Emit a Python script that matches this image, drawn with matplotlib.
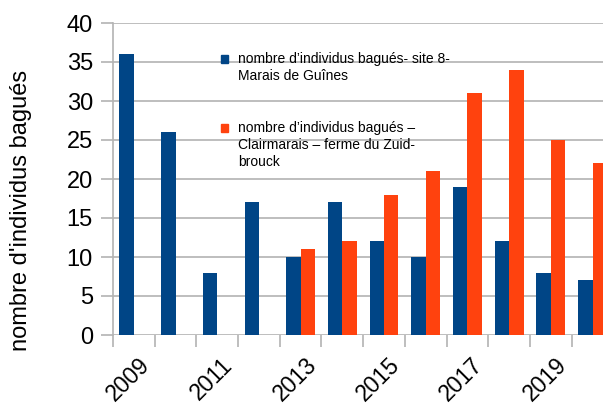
import numpy as np
import matplotlib
matplotlib.use('Agg')
import matplotlib.pyplot as plt
import matplotlib.transforms as mtransforms
from matplotlib.patches import Rectangle

plt.rcParams['font.family'] = ['Liberation Sans', 'DejaVu Sans']

# birds ringed per year at the two sites
years = [2009, 2010, 2011, 2012, 2013, 2014, 2015, 2016, 2017, 2018, 2019, 2020]
guines = [36, 26, 8, 17, 10, 17, 12, 10, 19, 12, 8, 7]
clairmarais = [np.nan, np.nan, np.nan, np.nan, 11, 12, 18, 21, 31, 34, 25, 22]

label_guines = "nombre d\u2019individus bagués- site 8-\nMarais de Guînes"
label_clair = "nombre d\u2019individus bagués \u2013\nClairmarais \u2013 ferme du Zuid-\nbrouck"

blue = '#004586'
orange = '#ff420e'
grey = '#b3b3b3'

W, H = 603, 409
fig = plt.figure(figsize=(W / 100, H / 100), dpi=100)
# plot area runs a bit past the right edge of the image
ax = fig.add_axes([113 / W, 1 - 335 / H, 500.4 / W, 312 / H])

x = np.arange(len(years))
bw = 0.345
ax.bar(x - bw / 2, guines, width=bw, color=blue, zorder=2)
ax.bar(x + bw / 2, clairmarais, width=bw, color=orange, zorder=2)

ax.set_xlim(-0.5, len(years) - 0.5)
ax.set_ylim(0, 40)
ax.set_yticks(range(0, 41, 5))
ax.yaxis.grid(True, color=grey, linewidth=1.2, zorder=0)

for s in ['top', 'right', 'bottom']:
    ax.spines[s].set_visible(False)
ax.spines['left'].set_color(grey)
ax.spines['left'].set_linewidth(1.2)

# boundary ticks without labels, year labels every other slot
ax.set_xticks(np.arange(-0.5, len(years), 1))
ax.set_xticklabels([])
ax.set_xticks(x[::2], minor=True)
ax.set_xticklabels([str(y) for y in years[::2]], minor=True,
                   rotation=45, ha='right', va='top', rotation_mode='anchor')
ax.tick_params(axis='x', which='major', length=8.5, width=1.2, color=grey)
ax.tick_params(axis='x', which='minor', length=0, pad=13, labelsize=16.5)
ax.tick_params(axis='y', length=8.5, width=1.2, color=grey, pad=6, labelsize=17)
shift = mtransforms.ScaledTranslation(4 / 100, 0, fig.dpi_scale_trans)
for lbl in ax.get_xticklabels(minor=True):
    lbl.set_transform(lbl.get_transform() + shift)

ax.set_ylabel("nombre d'individus bagués", fontsize=17)
ax.yaxis.set_label_coords(-0.162, 0.399)

# legend drawn inside the plot area
for (sq_y, txt_y, col, lab) in [(55, 52, blue, label_guines), (124, 121, orange, label_clair)]:
    fig.add_artist(Rectangle((220.5 / W, 1 - (sq_y + 7.5) / H), 7.5 / W, 7.5 / H,
                             transform=fig.transFigure, color=col))
    fig.text(238 / W, 1 - txt_y / H, lab, fontsize=10, va='top', ha='left',
             linespacing=1.25)

fig.savefig('out.png', dpi=100)
